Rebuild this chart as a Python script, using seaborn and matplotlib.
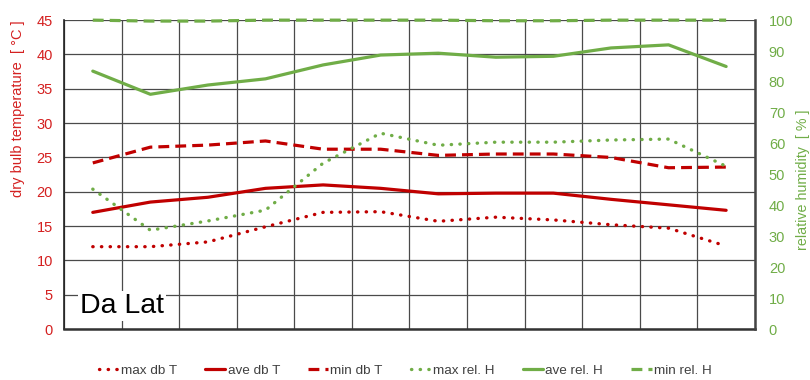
import matplotlib
matplotlib.use("Agg")
import matplotlib.pyplot as plt
from matplotlib.ticker import MultipleLocator, FixedLocator
import seaborn as sns
import pandas as pd

# Monthly climate data for Da Lat
months = list(range(1, 13))
max_db_t = [12.0, 12.0, 12.7, 14.9, 17.0, 17.1, 15.7, 16.3, 15.9, 15.2, 14.7, 12.1]
ave_db_t = [17.0, 18.5, 19.2, 20.5, 21.0, 20.5, 19.7, 19.8, 19.8, 18.9, 18.1, 17.3]
min_db_t = [24.2, 26.5, 26.8, 27.4, 26.2, 26.2, 25.3, 25.5, 25.5, 25.0, 23.5, 23.6]
max_rel_h = [45.3, 32.0, 35.0, 38.5, 53.7, 63.4, 59.5, 60.5, 60.5, 61.2, 61.5, 52.7]
ave_rel_h = [83.5, 76.0, 79.0, 81.0, 85.5, 88.7, 89.3, 88.0, 88.3, 91.0, 92.0, 85.0]
min_rel_h = [100.0, 99.7, 99.7, 100.0, 100.0, 100.0, 100.0, 99.8, 99.8, 100.0, 100.0, 100.0]
station = "Da Lat"

RED = "#c00000"
RED_TXT = "#d42020"
GREEN = "#70ad47"
GRID = "#4a4a4a"

sns.set_theme(style="white")
plt.rcParams["font.family"] = ["Liberation Sans", "DejaVu Sans"]

df = pd.DataFrame({
    "month": months,
    "max db T": max_db_t, "ave db T": ave_db_t, "min db T": min_db_t,
    "max rel. H": max_rel_h, "ave rel. H": ave_rel_h, "min rel. H": min_rel_h,
})

fig = plt.figure(figsize=(8.1, 3.8), dpi=100)
ax = fig.add_axes([0.079, 0.134, 0.853, 0.813])
ax2 = ax.twinx()

dot_style = dict(linestyle=(0, (0.1, 2.5)), dash_capstyle="round", linewidth=2.4)
solid_style = dict(linestyle="-", linewidth=2.3)
dash_style = dict(linestyle=(0, (3.4, 1.9)), linewidth=2.3)

sns.lineplot(data=df, x="month", y="max db T", ax=ax, color=RED, label="max db T", **dot_style)
sns.lineplot(data=df, x="month", y="ave db T", ax=ax, color=RED, label="ave db T", **solid_style)
sns.lineplot(data=df, x="month", y="min db T", ax=ax, color=RED, label="min db T", **dash_style)
sns.lineplot(data=df, x="month", y="max rel. H", ax=ax2, color=GREEN, label="max rel. H", **dot_style)
sns.lineplot(data=df, x="month", y="ave rel. H", ax=ax2, color=GREEN, label="ave rel. H", **solid_style)
sns.lineplot(data=df, x="month", y="min rel. H", ax=ax2, color=GREEN, label="min rel. H",
             clip_on=False, **dash_style)

# left axis: dry bulb temperature
ax.set_xlim(0.5, 12.5)
ax.set_ylim(0, 45)
ax.yaxis.set_major_locator(MultipleLocator(5))
ax.xaxis.set_major_locator(FixedLocator([i + 0.5 for i in range(0, 13)]))
ax.set_xticklabels([])
ax.tick_params(axis="x", length=0)
ax.tick_params(axis="y", colors=RED_TXT, labelsize=10.5, length=0, pad=8)
ax.grid(True, color=GRID, linewidth=0.9)
ax.set_xlabel("")
ax.set_ylabel("dry bulb temperature  [ °C ]", color=RED_TXT, fontsize=10.5,
              ha="center", va="center")
ax.yaxis.set_label_coords(-0.066, 0.712)

# right axis: relative humidity
ax2.set_ylim(0, 100)
ax2.yaxis.set_major_locator(MultipleLocator(10))
ax2.tick_params(axis="y", colors=GREEN, labelsize=10.5, length=0, pad=10)
ax2.grid(False)
ax2.set_ylabel("relative humidity  [ % ]", color=GREEN, fontsize=10.3,
               ha="center", va="center")
ax2.yaxis.set_label_coords(1.069, 0.482)

for a in (ax, ax2):
    for s in a.spines.values():
        s.set_visible(False)
ax.spines["left"].set_visible(True)
ax.spines["left"].set_color("#222222")
ax.spines["left"].set_linewidth(1.2)
ax.spines["bottom"].set_visible(True)
ax.spines["bottom"].set_color("#333333")
ax.spines["bottom"].set_linewidth(1.8)
ax2.spines["right"].set_visible(True)
ax2.spines["right"].set_color("#444444")
ax2.spines["right"].set_linewidth(1.8)

ax.text(0.77, 3.4, station, fontsize=20.5, color="black", va="center", ha="left",
        bbox=dict(facecolor="white", edgecolor="none", pad=1.5), zorder=5)

# one legend below the chart for both axes
h1, l1 = ax.get_legend_handles_labels()
h2, l2 = ax2.get_legend_handles_labels()
ax.get_legend().remove()
ax2.get_legend().remove()
fig.legend(h1 + h2, l1 + l2, loc="center", bbox_to_anchor=(0.5, 0.025), ncol=6,
           frameon=False, fontsize=9.7, handlelength=1.5, handletextpad=0.15,
           columnspacing=2.1, labelcolor="#404040")

fig.savefig("out.png", dpi=100)
